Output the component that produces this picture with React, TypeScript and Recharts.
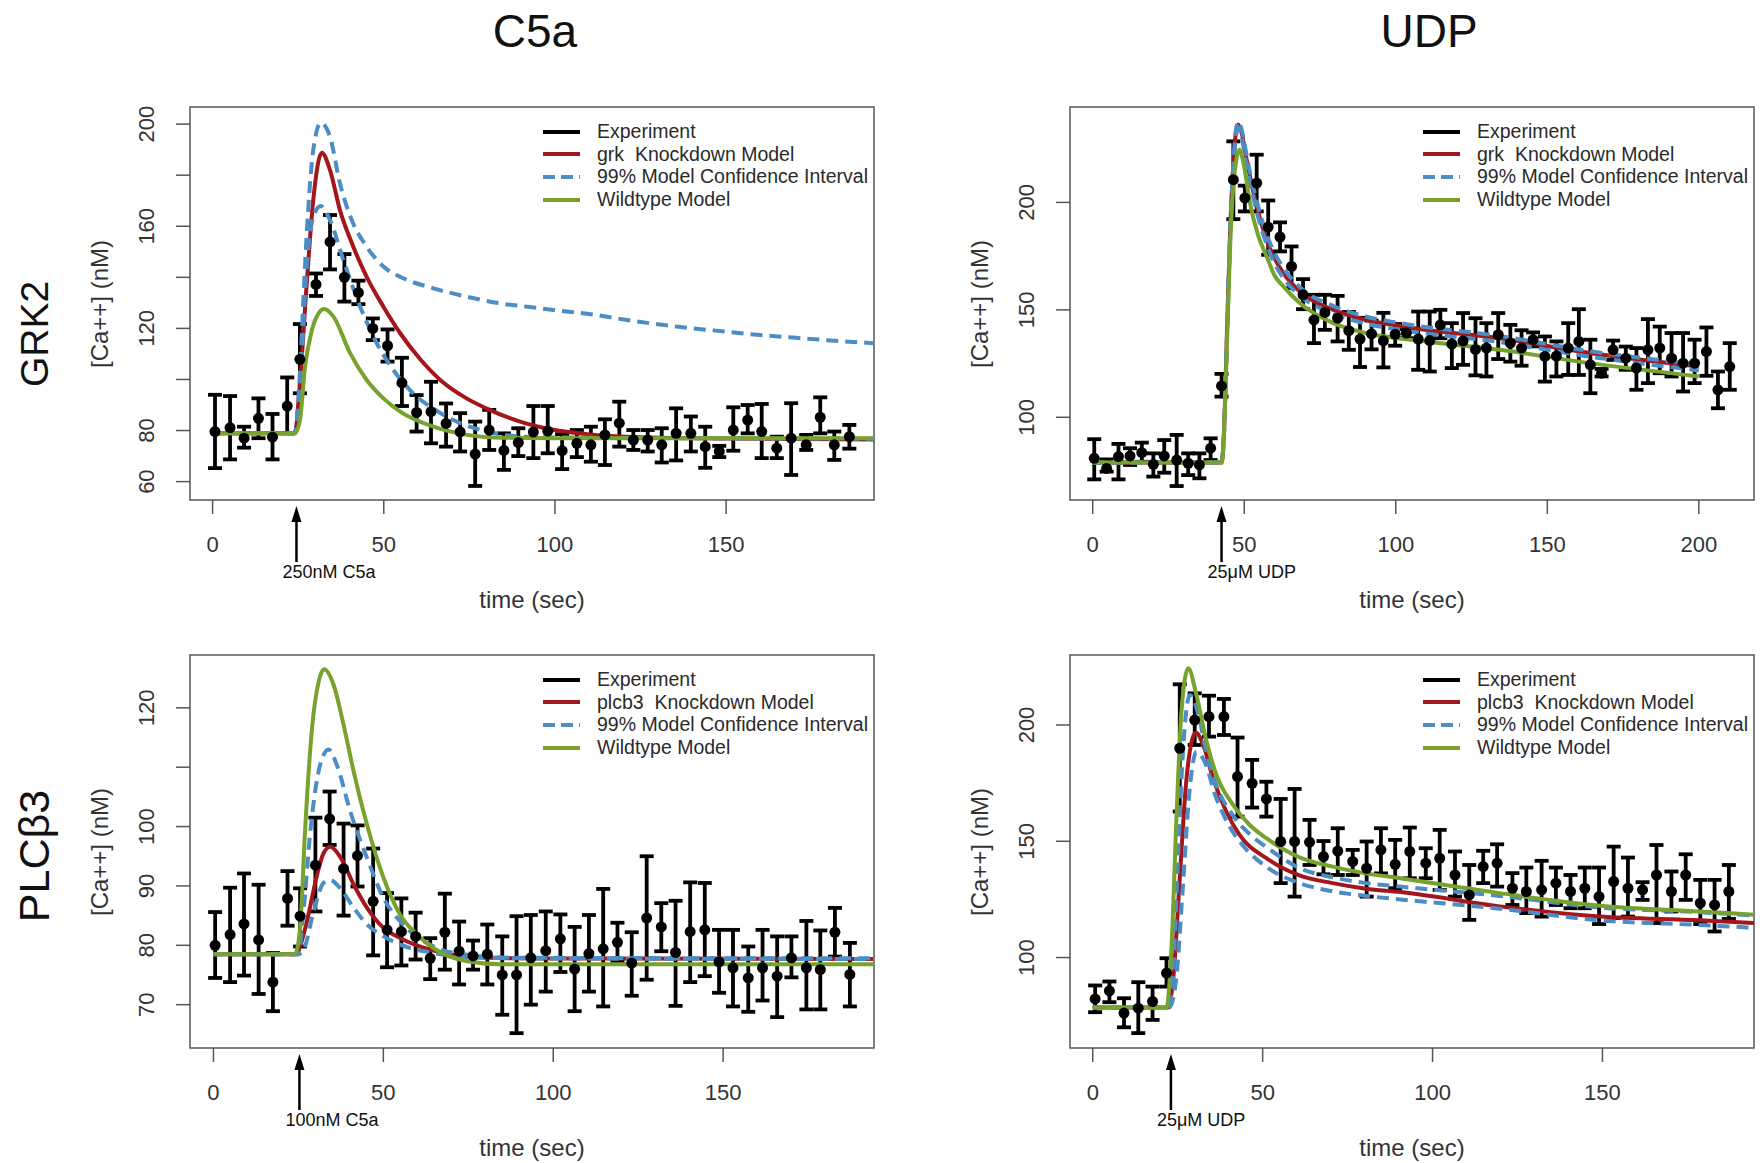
import React from "react";
import {
  ComposedChart,
  Line,
  Scatter,
  ErrorBar,
  XAxis,
  YAxis,
  ReferenceArea,
  ReferenceLine,
} from "recharts";

const RED = "#a3161b";
const BLUE = "#4c8dc6";
const GREEN = "#76a22d";
const AXIS = "#555";
const FONT = '"Liberation Sans", Arial, sans-serif';

// ---- GRK2 / C5a ----
const grkC5aT = [0.7, 5.1, 9.2, 13.4, 17.5, 21.8, 25.5, 30.2, 34.3, 38.5, 42.6, 46.8, 51.1, 55.3, 59.6, 63.8, 68.2, 72.3, 76.7, 80.8, 85.1, 89.3, 93.7, 97.9, 102.1, 106.4, 110.5, 114.6, 118.8, 122.9, 127.1, 131.2, 135.4, 139.7, 143.9, 148.0, 152.1, 156.3, 160.4, 164.8, 169.0, 173.4, 177.5, 181.6, 186.0];
const grkC5aCa = [79.6, 81.1, 77.0, 84.8, 77.4, 89.6, 107.9, 137.2, 153.9, 140.0, 134.0, 120.0, 113.2, 98.7, 87.1, 87.4, 82.8, 79.5, 70.8, 80.2, 72.2, 75.3, 79.4, 79.8, 72.1, 75.0, 74.4, 78.3, 82.9, 76.3, 76.3, 74.4, 78.9, 78.9, 73.7, 71.8, 80.2, 84.1, 79.6, 73.1, 77.0, 74.4, 85.2, 74.4, 77.6];
const grkC5aLo = [65.3, 68.7, 73.3, 77.0, 68.7, 78.9, 94.6, 132.7, 143.1, 130.5, 129.5, 115.4, 107.0, 89.6, 79.6, 75.0, 73.7, 71.8, 58.3, 72.4, 64.6, 70.0, 69.2, 71.1, 64.9, 69.6, 67.8, 66.5, 73.7, 72.4, 71.8, 67.5, 68.3, 71.8, 65.4, 69.6, 72.1, 78.9, 69.2, 69.2, 62.6, 72.4, 78.9, 68.5, 72.9];
const grkC5aHi = [94.0, 93.5, 81.5, 92.6, 86.5, 100.8, 121.7, 141.5, 164.4, 149.1, 138.7, 123.9, 119.6, 108.5, 93.9, 99.1, 90.6, 86.8, 83.5, 88.1, 78.9, 80.9, 89.6, 89.6, 78.6, 80.2, 81.5, 84.4, 91.3, 80.2, 80.2, 80.9, 88.7, 85.5, 81.5, 74.0, 89.1, 90.0, 90.4, 77.6, 90.7, 78.3, 93.0, 79.6, 82.2];
const grkC5aKdT = [0, 24, 25.5, 27.5, 29.4, 31.9, 34.3, 37.2, 41.1, 45, 49.9, 54.8, 60.6, 66.5, 74.3, 80.1, 89.8, 99.5, 109.3, 125, 150, 193.2];
const grkC5aKd = [78.9, 78.9, 98.5, 137.6, 170.2, 188.8, 182, 166.3, 152, 140.2, 128.5, 118.1, 108, 99.8, 92.5, 88.6, 83.5, 80.3, 78.6, 77.4, 76.9, 76.5];
const grkC5aWtT = [0, 24, 25.5, 27, 29, 31, 32.6, 35.3, 40.2, 45, 49.9, 54.8, 64.5, 74.3, 84, 100, 193.2];
const grkC5aWt = [78.9, 78.9, 84, 105, 119.4, 126, 127.6, 124.6, 110.2, 99.8, 92.6, 87.4, 81.5, 78.3, 77.2, 77.0, 77.0];
const grkC5aCiHiT = [0, 24, 25.5, 26.5, 27.5, 29.4, 31.6, 34.3, 37.2, 41.1, 45, 49.9, 54.8, 64.5, 74.3, 84, 93.8, 101.5, 111.2, 121, 130.7, 140.4, 150.2, 159.9, 169.6, 179.4, 193.2];
const grkC5aCiHi = [78.9, 78.9, 102.4, 131, 157, 189.8, 200.5, 195, 176.8, 161, 152, 144.2, 140.2, 135.7, 132.4, 129.8, 128.2, 126.9, 125.4, 123.3, 121.5, 120.0, 118.7, 117.4, 116.4, 115.4, 114.2];
const grkC5aCiLoT = [0, 24, 25.5, 27.5, 29.4, 31.6, 34.3, 38.2, 43.1, 48, 52.8, 59.6, 64, 70.3, 80.1, 89.8, 100, 193.2];
const grkC5aCiLo = [78.9, 78.9, 97, 144, 163.7, 167.9, 162.4, 146.8, 128.5, 114.1, 103.7, 93.3, 89, 84.1, 79.6, 77.7, 77.3, 76.8];

// ---- GRK2 / UDP ----
const grkUdpT = [0.5, 4.6, 8.5, 12.3, 16.2, 20.0, 23.6, 27.7, 31.5, 35.2, 38.9, 42.5, 46.4, 50.2, 54.1, 57.9, 61.8, 65.6, 69.4, 73.0, 76.6, 80.8, 84.5, 88.2, 92.0, 95.9, 99.8, 103.5, 107.4, 111.2, 114.7, 118.5, 122.2, 126.3, 129.9, 133.8, 137.8, 141.5, 145.3, 149.2, 153.0, 156.9, 160.4, 164.2, 167.9, 171.7, 175.9, 179.4, 183.2, 187.1, 191.0, 194.8, 198.6, 202.5, 206.3, 210.2];
const grkUdpCa = [80.9, 76.2, 81.7, 82.0, 83.5, 78.1, 82.0, 80.1, 78.6, 77.8, 85.6, 114.6, 210.6, 202.0, 209.0, 188.5, 183.9, 170.2, 157.0, 145.3, 148.8, 146.1, 140.3, 136.4, 138.8, 135.6, 138.6, 139.2, 136.4, 135.7, 143.0, 134.1, 135.5, 131.6, 132.2, 138.4, 134.5, 132.2, 136.1, 128.3, 128.5, 132.2, 135.3, 124.4, 120.5, 131.4, 127.5, 122.9, 131.4, 132.2, 127.5, 125.2, 125.2, 130.6, 112.8, 123.6];
const grkUdpLo = [71.1, 74.7, 71.1, 77.8, 79.3, 72.4, 74.2, 68.0, 73.1, 71.6, 80.1, 109.6, 192.2, 195.8, 195.8, 175.6, 177.2, 160.1, 150.3, 134.5, 140.7, 135.3, 131.4, 123.4, 131.6, 123.2, 133.3, 136.8, 122.1, 121.3, 136.8, 122.9, 124.4, 119.5, 119.0, 127.1, 125.9, 124.0, 133.0, 116.6, 119.0, 119.7, 119.7, 111.2, 119.0, 126.7, 122.1, 112.8, 115.9, 120.5, 119.0, 112.0, 115.9, 119.3, 104.2, 112.8];
const grkUdpHi = [89.8, 80.4, 87.6, 85.6, 88.2, 83.2, 89.4, 91.8, 83.2, 83.2, 90.2, 120.2, 228.4, 207.8, 222.2, 200.9, 190.7, 179.5, 164.3, 157.0, 157.0, 156.5, 149.0, 146.3, 145.0, 148.6, 143.4, 141.0, 149.2, 149.2, 150.0, 143.8, 148.5, 146.1, 143.8, 148.5, 143.0, 140.5, 139.5, 137.6, 135.3, 143.8, 150.3, 136.1, 122.5, 135.7, 132.9, 132.2, 145.7, 142.2, 139.2, 139.2, 136.1, 141.8, 121.3, 134.5];
const grkUdpKdT = [0, 42.5, 43.3, 44.2, 45.3, 46.4, 47.2, 48, 49.2, 50.5, 51.9, 54.5, 57.4, 60, 62.9, 68.4, 79.4, 90.4, 101.4, 106.8, 134.3, 164, 200];
const grkUdpKd = [78.9, 78.9, 93, 135, 185, 218, 232, 236.2, 232, 222, 212, 196, 182.6, 174, 167.1, 158.5, 150.0, 145.3, 142.5, 141.3, 136.8, 129.9, 123.6];
const grkUdpWtT = [0, 42.5, 43.3, 44.2, 45.3, 46.4, 47.4, 48.4, 49.8, 51.9, 54.5, 57.4, 60, 62.9, 68.4, 79.4, 90.4, 106.8, 134.3, 164, 200];
const grkUdpWt = [78.9, 78.9, 92, 130, 178, 208, 220, 224.5, 218, 199.7, 185, 174.8, 166, 160.9, 153.1, 143.8, 139.1, 135.8, 131.4, 125.2, 119.0];
const grkUdpCiT = [0, 42.5, 43.3, 44.2, 45.3, 46.4, 47.2, 48, 49.2, 50.5, 51.9, 54.5, 57.4, 60, 62.9, 68.4, 79.4, 90.4, 101.4, 134.3, 164, 200];
const grkUdpCiHi = [78.9, 78.9, 92, 134, 184, 218, 233, 237.5, 233.5, 224, 214, 198.5, 185, 176.5, 169.5, 160.5, 151.8, 146.8, 143.8, 137.8, 130.8, 124.6];
const grkUdpCiLo = [78.9, 78.9, 91, 132, 182, 215, 230, 234.5, 230, 219.5, 209.5, 193.5, 180.5, 171.5, 164.8, 156.5, 148.3, 143.5, 140.7, 135.0, 128.2, 121.8];

// ---- PLCb3 / C5a ----
const plcC5aT = [0.5, 4.9, 9.0, 13.3, 17.5, 21.8, 25.5, 30.0, 34.2, 38.3, 42.4, 47.0, 51.1, 55.3, 59.5, 63.8, 68.1, 72.3, 76.4, 80.6, 85.0, 89.2, 93.4, 97.8, 102.1, 106.3, 110.5, 114.7, 118.9, 123.1, 127.5, 131.8, 136.0, 140.3, 144.6, 148.8, 152.9, 157.4, 161.6, 165.9, 170.1, 174.5, 178.6, 182.9, 187.3];
const plcC5aCa = [80.0, 81.8, 83.6, 80.9, 73.8, 87.9, 84.9, 93.5, 101.3, 92.9, 95.1, 87.4, 82.6, 82.3, 81.5, 77.8, 82.2, 79.0, 78.2, 78.5, 75.0, 75.0, 77.9, 79.1, 81.1, 76.0, 78.6, 79.4, 80.5, 77.0, 84.6, 83.1, 78.8, 82.3, 82.6, 77.2, 76.2, 74.5, 76.2, 74.8, 77.9, 76.2, 75.9, 82.2, 75.1];
const plcC5aLo = [74.5, 73.8, 74.9, 71.8, 68.9, 83.3, 79.8, 85.7, 96.9, 85.0, 89.9, 78.3, 76.3, 76.6, 77.6, 74.3, 75.9, 73.4, 75.9, 73.4, 68.3, 65.2, 70.0, 72.2, 75.5, 68.9, 72.2, 69.7, 77.3, 71.5, 74.2, 79.0, 69.8, 73.8, 74.8, 72.0, 69.7, 68.8, 70.7, 67.9, 74.6, 69.2, 69.2, 78.1, 69.7];
const plcC5aHi = [85.6, 89.7, 92.1, 90.2, 78.7, 92.5, 89.6, 101.5, 105.9, 100.5, 100.2, 96.3, 88.8, 87.9, 85.5, 81.2, 88.7, 84.0, 80.8, 83.5, 81.5, 84.9, 85.1, 85.7, 85.2, 83.1, 85.1, 89.5, 83.8, 82.2, 95.0, 87.1, 87.5, 90.6, 90.5, 82.6, 82.6, 79.8, 82.6, 81.5, 81.5, 84.1, 82.5, 86.3, 80.4];
const plcC5aKdT = [0, 24.5, 25.5, 27.5, 30.5, 32.4, 34.4, 37.3, 41.3, 45.2, 50.1, 55, 64.8, 74.7, 90, 194.4];
const plcC5aKd = [78.5, 78.5, 79.8, 84.0, 91.9, 95.5, 96.6, 94.9, 90.2, 86.3, 82.9, 81.2, 79.1, 78.1, 77.8, 77.7];
const plcC5aWtT = [0, 24, 25.5, 27, 29, 31, 32.6, 35.4, 38.3, 41.3, 45.2, 50.1, 55, 59.9, 64.8, 74.7, 84.5, 100, 194.4];
const plcC5aWt = [78.5, 78.5, 82.9, 99.7, 116.5, 124.5, 126.5, 123.8, 117.1, 109.2, 100.3, 91.3, 85.1, 81.8, 79.5, 77.3, 76.8, 76.8, 76.8];
const plcC5aCiHiT = [0, 25, 26.5, 28.5, 31.4, 33.9, 36.3, 40.3, 45.2, 50.1, 55, 64.8, 74.7, 90, 194.4];
const plcC5aCiHi = [78.5, 78.5, 85.7, 99.1, 110.4, 113.0, 110.4, 102.5, 94.7, 87.9, 84.0, 79.8, 78.4, 77.9, 77.8];
const plcC5aCiLoT = [0, 25, 26.5, 29.5, 32.4, 34.4, 37.3, 41.3, 45.2, 50.1, 55, 64.8, 74.7, 90, 194.4];
const plcC5aCiLo = [78.5, 78.5, 79.2, 85.7, 90.5, 91.0, 89.6, 86.3, 83.5, 81.5, 80.1, 78.7, 78.0, 77.8, 77.7];

// ---- PLCb3 / UDP ----
const plcUdpT = [0.7, 4.9, 9.2, 13.4, 17.6, 21.7, 25.6, 30.0, 34.2, 38.6, 42.6, 46.9, 51.1, 55.3, 59.4, 63.8, 67.9, 72.1, 76.5, 80.6, 84.8, 89.0, 93.3, 98.0, 102.1, 106.6, 110.8, 114.9, 119.0, 123.5, 127.6, 132.1, 136.3, 140.6, 144.8, 149.0, 153.3, 157.5, 161.8, 165.9, 170.3, 174.5, 178.8, 183.0, 187.2];
const plcUdpCa = [82.2, 85.7, 76.1, 78.2, 81.1, 93.3, 190.0, 202.1, 203.6, 203.6, 177.8, 174.9, 168.2, 149.9, 149.9, 149.6, 143.4, 145.8, 141.3, 138.4, 146.3, 140.1, 145.6, 140.6, 142.7, 135.5, 126.9, 139.1, 140.6, 129.8, 128.4, 129.1, 132.0, 128.4, 129.8, 126.2, 132.7, 129.8, 129.1, 135.5, 128.4, 135.5, 123.4, 122.6, 128.4];
const plcUdpLo = [76.5, 80.8, 70.0, 67.5, 73.2, 87.5, 162.8, 191.4, 195.0, 195.7, 160.6, 164.5, 160.6, 132.0, 126.2, 139.8, 135.8, 135.5, 135.5, 126.2, 136.2, 129.8, 134.1, 134.1, 129.1, 126.2, 116.2, 132.0, 130.5, 122.6, 119.1, 117.6, 122.6, 121.2, 121.2, 114.4, 117.0, 117.6, 124.8, 114.8, 119.8, 124.8, 114.4, 111.2, 116.6];
const plcUdpHi = [88.0, 89.7, 82.5, 89.4, 87.5, 99.7, 217.5, 213.6, 212.6, 211.2, 194.6, 185.0, 175.6, 168.2, 172.5, 159.2, 150.1, 155.6, 146.3, 149.9, 155.6, 150.6, 155.9, 147.0, 154.9, 145.6, 139.8, 145.9, 148.7, 136.3, 138.7, 141.6, 138.7, 135.5, 138.7, 138.7, 147.7, 143.0, 132.4, 148.4, 137.0, 144.4, 133.4, 133.4, 139.8];
const plcUdpKdT = [0, 22, 23.7, 25.6, 27.6, 30.3, 32.5, 35.4, 39.3, 43.2, 51.1, 61, 70.6, 80.4, 90.5, 119.8, 149.2, 178.6, 194.6];
const plcUdpKd = [78.5, 78.5, 91.1, 134.1, 177.1, 196.8, 191.4, 177.1, 162.8, 152.7, 142.7, 135.2, 132.0, 129.6, 128.2, 122.0, 117.6, 116.0, 114.8];
const plcUdpWtT = [0, 21.7, 23.2, 24.7, 26.1, 28.1, 30.5, 33.5, 36.4, 41.3, 46.2, 51.1, 61, 70.6, 80.4, 90.5, 119.8, 149.2, 178.6, 194.6];
const plcUdpWt = [78.5, 78.5, 105.4, 162.8, 205.7, 224.4, 212.9, 192.8, 178.5, 165.6, 157.0, 151.3, 143.0, 139.1, 136.2, 134.1, 127.7, 122.3, 119.8, 118.4];
const plcUdpCiHiT = [0, 22, 23.5, 25, 26.6, 28.6, 31, 33.5, 36.4, 41.3, 46.2, 51.1, 61, 70.6, 80.4, 90.5, 119.8, 149.2, 178.6, 194.6];
const plcUdpCiHi = [78.5, 78.5, 90, 140, 190, 212.9, 205, 188, 174, 161, 153, 147.5, 138.4, 134.5, 132.0, 130.5, 126.5, 121.5, 119.5, 118.0];
const plcUdpCiLoT = [0, 22.5, 24.5, 26.5, 28.5, 30.5, 33, 36, 40, 44, 51.1, 61, 70.6, 80.4, 90.5, 119.8, 149.2, 178.6, 194.6];
const plcUdpCiLo = [78.5, 78.5, 90, 130, 172, 188.5, 184, 170, 157, 148.5, 139, 131.9, 128.5, 126.5, 125.0, 121.0, 116.0, 114.0, 112.8];

// ticks
const c5aXTicks = [0, 50, 100, 150];
const udpXTicks = [0, 50, 100, 150, 200];
const grkC5aYTicks = [60, 80, 100, 120, 140, 160, 180, 200];
const grkC5aYLabels = [60, 80, 120, 160, 200];
const plcC5aYTicks = [70, 80, 90, 100, 110, 120];
const plcC5aYLabels = [70, 80, 90, 100, 120];
const udpYTicks = [100, 150, 200];

type Pt = { t: number; v: number };
const series = (ts: number[], vs: number[]): Pt[] => ts.map((t, i) => ({ t, v: vs[i] }));
const expTable = (ts: number[], vs: number[], lo: number[], hi: number[]) =>
  ts.map((t, i) => ({ t, v: vs[i], err: [vs[i] - lo[i], hi[i] - vs[i]] }));

const BOX_W = 684;
const BOX_H = 393;
const PAD_L = 100;
const PAD_T = 50;
const PAD_R = 4;
const PAD_B = 110;
const X_AXIS_H = 60;

const renderYTick = (shown: number[]) => (props: any) => {
  const { x, y, payload } = props;
  if (!shown.includes(payload.value)) return <g />;
  const tx = x - 22;
  return (
    <text
      x={tx}
      y={y}
      transform={`rotate(-90 ${tx} ${y})`}
      textAnchor="middle"
      fontSize={22}
      fontFamily={FONT}
      fill="#333"
    >
      {payload.value}
    </text>
  );
};

const stimArrow = (label: string) => (props: any) => {
  const x = props.x1;
  const base = Math.max(props.y1, props.y2);
  return (
    <g>
      <line x1={x} y1={base + 20} x2={x} y2={base + 62} stroke="#000" strokeWidth={2.5} />
      <polygon points={`${x},${base + 6} ${x - 5},${base + 22} ${x + 5},${base + 22}`} fill="#000" />
      <text x={x - 14} y={base + 78} fontSize={18} fontFamily={FONT} fill="#111">
        {label}
      </text>
    </g>
  );
};

const dotShape = (p: any) => <circle cx={p.cx} cy={p.cy} r={5.5} fill="#000" />;

function LegendBox({ kdName }: { kdName: string }) {
  const rows = [
    { label: "Experiment", color: "#000", dash: undefined as string | undefined },
    { label: `${kdName}  Knockdown Model`, color: RED, dash: undefined },
    { label: "99% Model Confidence Interval", color: BLUE, dash: "12 6" },
    { label: "Wildtype Model", color: GREEN, dash: undefined },
  ];
  return (
    <div style={{ position: "absolute", left: BOX_W - 331, top: 13.5 }}>
      {rows.map((r) => (
        <div key={r.label} style={{ display: "flex", alignItems: "center", height: 22.6 }}>
          <svg width={54} height={10}>
            <line x1={0} y1={5} x2={37} y2={5} stroke={r.color} strokeWidth={4} strokeDasharray={r.dash} />
          </svg>
          <span style={{ fontSize: 19.5, color: "#2a2a2a", whiteSpace: "pre", lineHeight: 1 }}>{r.label}</span>
        </div>
      ))}
    </div>
  );
}

interface PanelProps {
  left: number;
  top: number;
  xDomain: [number, number];
  yDomain: [number, number];
  xTicks: number[];
  yTicks: number[];
  yLabels: number[];
  exp: { t: number; v: number; err: number[] }[];
  kd: Pt[];
  ciHi: Pt[];
  ciLo: Pt[];
  wt: Pt[];
  kdName: string;
  stimT: number;
  stimLabel: string;
}

function Panel(p: PanelProps) {
  const W = PAD_L + BOX_W + PAD_R;
  const H = PAD_T + BOX_H + PAD_B;
  return (
    <>
      <div style={{ position: "absolute", left: p.left - PAD_L, top: p.top - PAD_T, width: W, height: H }}>
        <ComposedChart
          width={W}
          height={H}
          margin={{ top: PAD_T, right: PAD_R, left: 0, bottom: PAD_B - X_AXIS_H }}
        >
          <XAxis
            type="number"
            dataKey="t"
            domain={p.xDomain}
            ticks={p.xTicks}
            interval={0}
            allowDataOverflow
            height={X_AXIS_H}
            axisLine={false}
            tickSize={14}
            tickMargin={22}
            tickLine={{ stroke: AXIS, strokeWidth: 1.5 }}
            tick={{ fill: "#333", fontSize: 22, fontFamily: FONT }}
          />
          <YAxis
            type="number"
            dataKey="v"
            domain={p.yDomain}
            ticks={p.yTicks}
            interval={0}
            allowDataOverflow
            width={PAD_L}
            axisLine={false}
            tickSize={14}
            tickMargin={0}
            tickLine={{ stroke: AXIS, strokeWidth: 1.5 }}
            tick={renderYTick(p.yLabels)}
          />
          <ReferenceArea
            x1={p.xDomain[0]}
            x2={p.xDomain[1]}
            y1={p.yDomain[0]}
            y2={p.yDomain[1]}
            fill="none"
            stroke={AXIS}
            strokeWidth={1.5}
            ifOverflow="visible"
          />
          <Scatter data={p.exp} dataKey="v" fill="#000" shape={dotShape} isAnimationActive={false}>
            <ErrorBar dataKey="err" direction="y" width={7} stroke="#000" strokeWidth={3.8} isAnimationActive={false} />
          </Scatter>
          <Line data={p.kd} dataKey="v" type="monotone" stroke={RED} strokeWidth={4} dot={false} isAnimationActive={false} />
          <Line data={p.ciHi} dataKey="v" type="monotone" stroke={BLUE} strokeWidth={4} strokeDasharray="12 7" dot={false} isAnimationActive={false} />
          <Line data={p.ciLo} dataKey="v" type="monotone" stroke={BLUE} strokeWidth={4} strokeDasharray="12 7" dot={false} isAnimationActive={false} />
          <Line data={p.wt} dataKey="v" type="monotone" stroke={GREEN} strokeWidth={4} dot={false} isAnimationActive={false} />
          <ReferenceLine x={p.stimT} ifOverflow="visible" shape={stimArrow(p.stimLabel)} />
        </ComposedChart>
      </div>
      <div style={{ position: "absolute", left: p.left, top: p.top, width: BOX_W, height: BOX_H, pointerEvents: "none" }}>
        <LegendBox kdName={p.kdName} />
      </div>
      <div
        style={{
          position: "absolute",
          left: p.left - 90,
          top: p.top + BOX_H / 2,
          transform: "translate(-50%, -50%) rotate(-90deg)",
          fontSize: 24,
          color: "#333",
          whiteSpace: "nowrap",
          lineHeight: 1,
        }}
      >
        [Ca++] (nM)
      </div>
      <div
        style={{
          position: "absolute",
          left: p.left + BOX_W / 2,
          top: p.top + BOX_H + 100,
          transform: "translate(-50%, -50%)",
          fontSize: 24,
          color: "#333",
          whiteSpace: "nowrap",
          lineHeight: 1,
        }}
      >
        time (sec)
      </div>
    </>
  );
}

const bigText = (text: string, x: number, y: number, rotate: boolean, size: number) => (
  <div
    style={{
      position: "absolute",
      left: x,
      top: y,
      transform: `translate(-50%, -50%)${rotate ? " rotate(-90deg)" : ""}`,
      fontSize: size,
      color: "#111",
      whiteSpace: "nowrap",
      lineHeight: 1,
    }}
  >
    {text}
  </div>
);

export default function App() {
  return (
    <div
      style={{
        position: "absolute",
        left: 0,
        top: 0,
        width: 1760,
        height: 1163,
        overflow: "hidden",
        background: "#fff",
        fontFamily: FONT,
      }}
    >
      {bigText("C5a", 535, 31, false, 46)}
      {bigText("UDP", 1429, 31, false, 46)}
      {bigText("GRK2", 34, 334, true, 39)}
      {bigText("PLCβ3", 34, 856, true, 43)}
      <Panel
        left={190}
        top={107}
        xDomain={[-6.6, 193.2]}
        yDomain={[52.8, 206.7]}
        xTicks={c5aXTicks}
        yTicks={grkC5aYTicks}
        yLabels={grkC5aYLabels}
        exp={expTable(grkC5aT, grkC5aCa, grkC5aLo, grkC5aHi)}
        kd={series(grkC5aKdT, grkC5aKd)}
        ciHi={series(grkC5aCiHiT, grkC5aCiHi)}
        ciLo={series(grkC5aCiLoT, grkC5aCiLo)}
        wt={series(grkC5aWtT, grkC5aWt)}
        kdName="grk"
        stimT={24.5}
        stimLabel="250nM C5a"
      />
      <Panel
        left={1070}
        top={107}
        xDomain={[-7.5, 218.2]}
        yDomain={[61.5, 244.4]}
        xTicks={udpXTicks}
        yTicks={udpYTicks}
        yLabels={udpYTicks}
        exp={expTable(grkUdpT, grkUdpCa, grkUdpLo, grkUdpHi)}
        kd={series(grkUdpKdT, grkUdpKd)}
        ciHi={series(grkUdpCiT, grkUdpCiHi)}
        ciLo={series(grkUdpCiT, grkUdpCiLo)}
        wt={series(grkUdpWtT, grkUdpWt)}
        kdName="grk"
        stimT={42.5}
        stimLabel="25μM UDP"
      />
      <Panel
        left={190}
        top={655}
        xDomain={[-6.9, 194.4]}
        yDomain={[62.7, 128.9]}
        xTicks={c5aXTicks}
        yTicks={plcC5aYTicks}
        yLabels={plcC5aYLabels}
        exp={expTable(plcC5aT, plcC5aCa, plcC5aLo, plcC5aHi)}
        kd={series(plcC5aKdT, plcC5aKd)}
        ciHi={series(plcC5aCiHiT, plcC5aCiHi)}
        ciLo={series(plcC5aCiLoT, plcC5aCiLo)}
        wt={series(plcC5aWtT, plcC5aWt)}
        kdName="plcb3"
        stimT={25.3}
        stimLabel="100nM C5a"
      />
      <Panel
        left={1070}
        top={655}
        xDomain={[-6.7, 194.6]}
        yDomain={[61.1, 230.1]}
        xTicks={c5aXTicks}
        yTicks={udpYTicks}
        yLabels={udpYTicks}
        exp={expTable(plcUdpT, plcUdpCa, plcUdpLo, plcUdpHi)}
        kd={series(plcUdpKdT, plcUdpKd)}
        ciHi={series(plcUdpCiHiT, plcUdpCiHi)}
        ciLo={series(plcUdpCiLoT, plcUdpCiLo)}
        wt={series(plcUdpWtT, plcUdpWt)}
        kdName="plcb3"
        stimT={23.0}
        stimLabel="25μM UDP"
      />
    </div>
  );
}
